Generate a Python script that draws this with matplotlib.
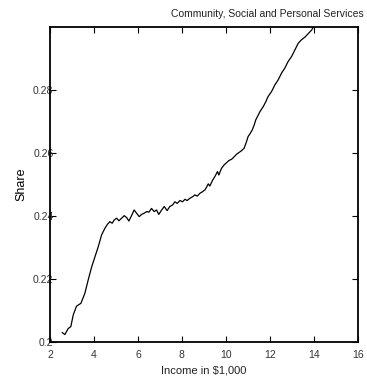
import matplotlib
matplotlib.use("Agg")
import matplotlib.pyplot as plt

plt.rcParams['font.family'] = ['Liberation Sans', 'DejaVu Sans']

# income (in $1,000) and share of spending
income = [2.56, 2.68, 2.83, 2.95, 3.06, 3.21, 3.41, 3.59, 3.74, 3.90,
          4.05, 4.20, 4.35, 4.50, 4.62, 4.73, 4.83, 4.92, 5.03, 5.14,
          5.26, 5.38, 5.49, 5.59, 5.71, 5.83, 5.94, 6.06, 6.17, 6.29,
          6.40, 6.50, 6.62, 6.74, 6.85, 6.95, 7.08, 7.20, 7.33, 7.45,
          7.58, 7.68, 7.79, 7.91, 8.03, 8.14, 8.24, 8.36, 8.49, 8.59,
          8.70, 8.82, 8.94, 9.05, 9.12, 9.20, 9.27, 9.40, 9.50, 9.62,
          9.68, 9.80, 9.92, 10.03, 10.14, 10.26, 10.38, 10.49, 10.59, 10.71,
          10.83, 10.94, 11.01, 11.09, 11.20, 11.29, 11.36, 11.55, 11.70, 11.82,
          11.92, 12.08, 12.23, 12.38, 12.53, 12.68, 12.83, 12.99, 13.14, 13.29,
          13.44, 13.59, 13.74, 13.90, 14.00]
share = [0.2030, 0.2024, 0.2043, 0.2049, 0.2086, 0.2114, 0.2123, 0.2155, 0.2197, 0.2239,
         0.2271, 0.2303, 0.2340, 0.2361, 0.2374, 0.2382, 0.2377, 0.2387, 0.2393, 0.2385,
         0.2393, 0.2401, 0.2395, 0.2384, 0.2401, 0.2419, 0.2409, 0.2398, 0.2405, 0.2409,
         0.2414, 0.2412, 0.2424, 0.2414, 0.2419, 0.2405, 0.2419, 0.2430, 0.2417, 0.2430,
         0.2435, 0.2445, 0.2440, 0.2449, 0.2445, 0.2453, 0.2449, 0.2456, 0.2461, 0.2467,
         0.2463, 0.2472, 0.2477, 0.2483, 0.2491, 0.2502, 0.2495, 0.2514, 0.2525, 0.2541,
         0.2530, 0.2551, 0.2562, 0.2569, 0.2576, 0.2580, 0.2588, 0.2596, 0.2601, 0.2607,
         0.2615, 0.2636, 0.2652, 0.2660, 0.2673, 0.2689, 0.2705, 0.2731, 0.2747, 0.2763,
         0.2779, 0.2795, 0.2816, 0.2832, 0.2853, 0.2869, 0.2890, 0.2906, 0.2927, 0.2948,
         0.2959, 0.2967, 0.2978, 0.2990, 0.3001]

xticks = [2, 4, 6, 8, 10, 12, 14, 16]
yticks = [0.2, 0.22, 0.24, 0.26, 0.28]
ytick_labels = ['0.2', '0.22', '0.24', '0.26', '0.28']

fig = plt.figure(figsize=(3.67, 3.78), dpi=100)
ax = fig.add_axes([0.136, 0.095, 0.839, 0.834])

ax.plot(income, share, color='black', linewidth=0.9)

ax.set_xlim(2, 16)
ax.set_ylim(0.2, 0.3)
ax.set_xticks(xticks)
ax.set_yticks(yticks)
ax.set_yticklabels(ytick_labels)

ax.tick_params(axis='both', direction='in', top=True, right=True,
               length=4, width=0.8, labelsize=7.5, labelcolor='#333333')
ax.tick_params(axis='x', pad=6)
ax.tick_params(axis='y', pad=-2.5)
for s in ax.spines.values():
    s.set_linewidth(1.3)

ax.set_xlabel('Income in $1,000', fontsize=8, color='#222222', labelpad=4)
ax.set_ylabel('Share', fontsize=9, labelpad=4)
fig.text(0.99, 0.962, 'Community, Social and Personal Services',
         ha='right', va='center', fontsize=7.5, color='#222222')

fig.savefig('out.png', dpi=100)
